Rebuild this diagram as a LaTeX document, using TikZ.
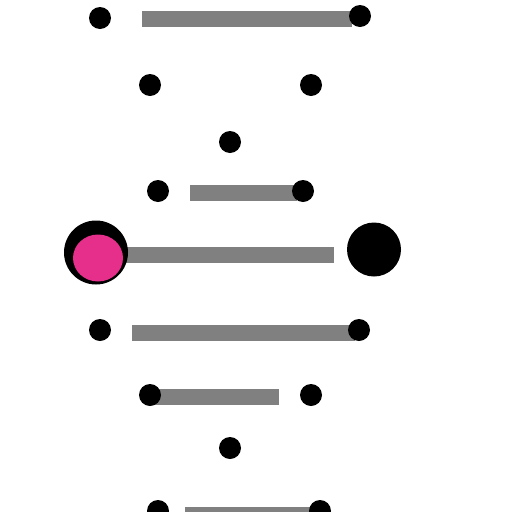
\documentclass[tikz,border=0pt]{standalone}
\usetikzlibrary{shapes.geometric}
\definecolor{barg}{RGB}{128,128,128}
\definecolor{pinkf}{RGB}{230,46,139}
\tikzset{
  dotn/.style={circle,fill=black,inner sep=0pt,minimum size=22pt},
  bigdot/.style={circle,fill=black,inner sep=0pt,minimum size=54pt},
  barline/.style={draw=barg,line width=16pt}
}
\begin{document}
\begin{tikzpicture}[x=1pt,y=-1pt]
\useasboundingbox (0,0) rectangle (512,512);
\clip (0,0) rectangle (512,512);
% bar end coordinates
\coordinate (b1s) at (142,19); \coordinate (b1e) at (352,19);
\coordinate (b4s) at (190,193); \coordinate (b4e) at (297,193);
\coordinate (b5s) at (126,255); \coordinate (b5e) at (334,255);
\coordinate (b6s) at (132,333); \coordinate (b6e) at (355,333);
\coordinate (b7s) at (152,397); \coordinate (b7e) at (279,397);
\coordinate (b9s) at (185,515); \coordinate (b9e) at (318,515);
\draw[barline] (b1s) -- (b1e);
\draw[barline] (b4s) -- (b4e);
\draw[barline] (b5s) -- (b5e);
\draw[barline] (b6s) -- (b6e);
\draw[barline] (b7s) -- (b7e);
\draw[barline] (b9s) -- (b9e);
% dots
\node[dotn] (d1a) at (100,18) {};
\node[dotn] (d1b) at (360,16) {};
\node[dotn] (d2a) at (150,85) {};
\node[dotn] (d2b) at (311,85) {};
\node[dotn] (d3) at (230,142) {};
\node[dotn] (d4a) at (158,191) {};
\node[dotn] (d4b) at (303,191) {};
\node[circle,fill=black,inner sep=0pt,minimum size=64pt] (d5a) at (96,252.5) {};
\node[ellipse,fill=pinkf,inner sep=0pt,minimum width=50pt,minimum height=47pt] (d5p) at (98,258) {};
\node[bigdot] (d5b) at (374,249.5) {};
\node[dotn] (d6a) at (100,330) {};
\node[dotn] (d6b) at (359,330) {};
\node[dotn] (d7a) at (150,395) {};
\node[dotn] (d7b) at (311,395) {};
\node[dotn] (d8) at (230,448) {};
\node[dotn] (d9a) at (158,511) {};
\node[dotn] (d9b) at (320,511) {};
\end{tikzpicture}
\end{document}
